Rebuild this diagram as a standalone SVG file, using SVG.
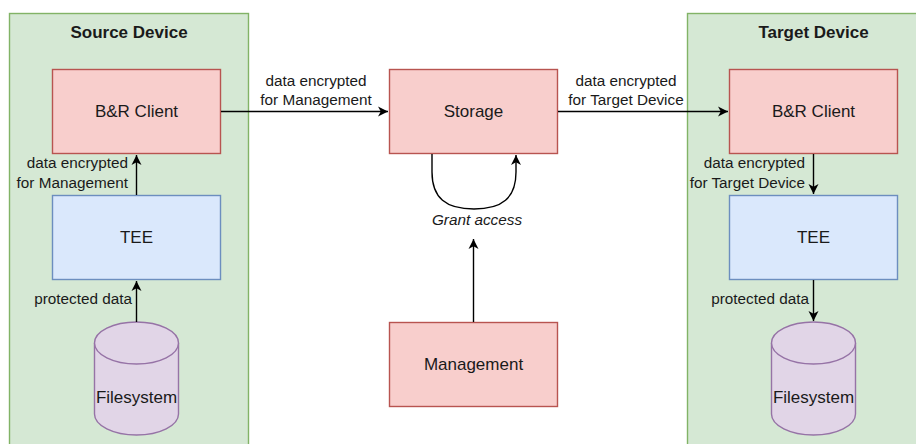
<svg xmlns="http://www.w3.org/2000/svg" width="916" height="444" viewBox="0 0 916 444">
<defs>
<marker id="arr" markerWidth="11" markerHeight="11" refX="10" refY="5.5" orient="auto" markerUnits="userSpaceOnUse">
<path d="M0,0.5 L10,5.5 L0,10.5 L2.8,5.5 Z" fill="#000"/>
</marker>
<style>
text{font-family:"Liberation Sans",Arial,sans-serif;fill:#1a1a1a}
.cont{fill:#d5e8d4;stroke:#82b366;stroke-width:1.4}
.red{fill:#f8cecc;stroke:#b85450;stroke-width:1.4}
.blue{fill:#dae8fc;stroke:#6c8ebf;stroke-width:1.4}
.pur{fill:#e1d5e7;stroke:#9673a6;stroke-width:1.4}
.title{font-size:17px;font-weight:bold;text-anchor:middle}
.node{font-size:17px;text-anchor:middle}
.lbl{font-size:15.3px}
.edge{fill:none;stroke:#000;stroke-width:1.4;marker-end:url(#arr)}
</style>
</defs>
<rect width="916" height="444" fill="#fff"/>
<g id="source-device">
<rect class="cont" x="9.5" y="13.5" width="239" height="440"/>
<text class="title" x="129" y="38">Source Device</text>
</g>
<g id="target-device">
<rect class="cont" x="687.5" y="13.5" width="240" height="440"/>
<text class="title" x="813.5" y="38">Target Device</text>
</g>
<g id="src-client">
<rect class="red" x="52.5" y="69.5" width="168" height="84"/>
<text class="node" x="136.5" y="117">B&amp;R Client</text>
</g>
<g id="src-tee">
<rect class="blue" x="52.5" y="195.5" width="168" height="84"/>
<text class="node" x="136.5" y="243">TEE</text>
</g>
<g id="src-fs">
<path class="pur" d="M94.5,343 A42,21 0 0 1 178.5,343 L178.5,414 A42,21 0 0 1 94.5,414 Z"/>
<path class="pur" d="M94.5,343 A42,21 0 0 0 178.5,343" fill="none"/>
<text class="node" x="136.5" y="403">Filesystem</text>
</g>
<g id="storage">
<rect class="red" x="389.5" y="69.5" width="168" height="84"/>
<text class="node" x="473.5" y="117">Storage</text>
</g>
<g id="management">
<rect class="red" x="389.5" y="322.5" width="168" height="84"/>
<text class="node" x="473.5" y="370">Management</text>
</g>
<g id="tgt-client">
<rect class="red" x="729.5" y="69.5" width="168" height="84"/>
<text class="node" x="813.5" y="117">B&amp;R Client</text>
</g>
<g id="tgt-tee">
<rect class="blue" x="729.5" y="195.5" width="168" height="84"/>
<text class="node" x="813.5" y="243">TEE</text>
</g>
<g id="tgt-fs">
<path class="pur" d="M771.5,343 A42,21 0 0 1 855.5,343 L855.5,414 A42,21 0 0 1 771.5,414 Z"/>
<path class="pur" d="M771.5,343 A42,21 0 0 0 855.5,343" fill="none"/>
<text class="node" x="813.5" y="403">Filesystem</text>
</g>
<g id="connectors">
<path class="edge" d="M136.5,322 L136.5,281"/>
<path class="edge" d="M136.5,195 L136.5,155"/>
<path class="edge" d="M221,111.5 L388,111.5"/>
<path class="edge" d="M558,111.5 L728,111.5"/>
<path class="edge" d="M813.5,154 L813.5,194"/>
<path class="edge" d="M813.5,280 L813.5,321"/>
<path class="edge" d="M432,154 L432,172 C432,198 446,209 474,209 C502,209 516,198 516,172 L516,155"/>
<path class="edge" d="M473.5,322 L473.5,239"/>
<g class="lbl">
<text x="128" y="168" text-anchor="end">data encrypted</text>
<text x="128" y="188" text-anchor="end">for Management</text>
<text x="132" y="304" text-anchor="end">protected data</text>
<text x="316" y="86" text-anchor="middle">data encrypted</text>
<text x="316" y="105" text-anchor="middle">for Management</text>
<text x="626" y="86" text-anchor="middle">data encrypted</text>
<text x="626" y="105" text-anchor="middle">for Target Device</text>
<text x="805" y="168" text-anchor="end">data encrypted</text>
<text x="805" y="188" text-anchor="end">for Target Device</text>
<text x="809" y="304" text-anchor="end">protected data</text>
<text x="477" y="225" text-anchor="middle" font-style="italic">Grant access</text>
</g>
</g>
</svg>
